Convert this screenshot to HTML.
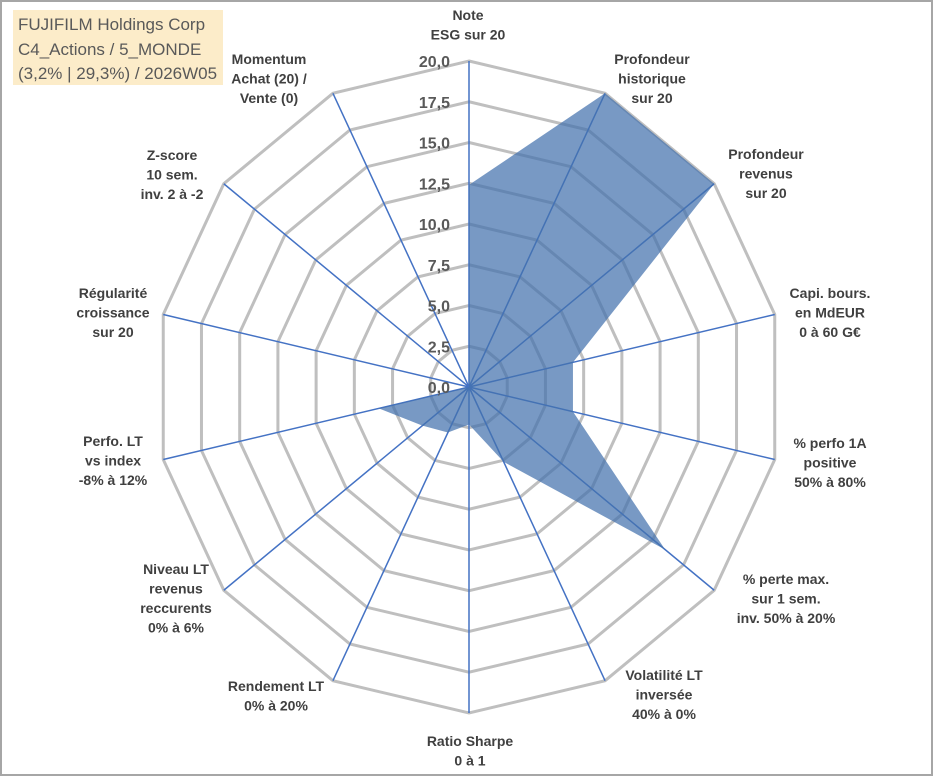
<!DOCTYPE html>
<html><head><meta charset="utf-8"><style>
body{margin:0;background:#fff;}
svg{display:block;font-family:"Liberation Sans",sans-serif;}
</style></head><body>
<svg id="c" width="933" height="776" xmlns="http://www.w3.org/2000/svg">
<rect x="1" y="1" width="931" height="774" fill="#fff" stroke="#a6a6a6" stroke-width="2"/>
<rect x="13" y="10" width="210" height="75" fill="#fcecc9"/>
<g font-size="17" fill="#595959">
<text x="18" y="30">FUJIFILM Holdings Corp</text>
<text x="18" y="55">C4_Actions / 5_MONDE</text>
<text x="18" y="79">(3,2% | 29,3%) / 2026W05</text>
</g>
<g id="grid"></g><g id="spokes"></g><g id="series"></g><g id="ticks"></g><g id="labels"></g>
</svg>
<script>
const categories=["Note|ESG sur 20","Profondeur|historique|sur 20","Profondeur|revenus|sur 20","Capi. bours.|en MdEUR|0 à 60 G€","% perfo 1A|positive|50% à 80%","% perte max.|sur 1 sem.|inv. 50% à 20%","Volatilité LT|inversée|40% à 0%","Ratio Sharpe|0 à 1","Rendement LT|0% à 20%","Niveau LT|revenus|reccurents|0% à 6%","Perfo. LT|vs index|-8% à 12%","Régularité|croissance|sur 20","Z-score|10 sem.|inv. 2 à -2","Momentum|Achat (20) /|Vente (0)"];
const values=[12.4,20,20,6.8,6.8,16,5.1,2.3,3.1,3.8,5.9,0,0,0];
const ticks=[0,2.5,5,7.5,10,12.5,15,17.5,20];
const tickLabels=["0,0","2,5","5,0","7,5","10,0","12,5","15,0","17,5","20,0"];
const labelPos=[[468,20],[652,64],[766,159],[830,298],[830,448],[786,584],[664,680],[470,746],[276,691],[176,574],[113,446],[113,298],[172,160],[269,64]];
const NS="http://www.w3.org/2000/svg";
const cx=469,cy=387,R=326,SX=0.962,MAX=20,N=categories.length;
function rs(v){return v/MAX*R;}
function pt(i,v){const a=i*2*Math.PI/N;return [cx+rs(v)*SX*Math.sin(a),cy-rs(v)*Math.cos(a)];}
function mk(t,attrs,parent){const e=document.createElementNS(NS,t);for(const k in attrs)e.setAttribute(k,attrs[k]);document.getElementById(parent).appendChild(e);return e;}
ticks.forEach((t,k)=>{if(t===0)return;
 const p=categories.map((c,i)=>pt(i,t).join(',')).join(' ');
 const e=mk('polygon',{points:p,fill:'none',stroke:'#bfbfbf','stroke-width':3},'grid');
 
 
});
const poly=mk('polygon',{points:values.map((v,i)=>pt(i,v).join(',')).join(' '),fill:'#4471ad','fill-opacity':0.72,stroke:'none'},'series');


categories.forEach((c,i)=>{const [x,y]=pt(i,MAX);
 const l=mk('line',{x1:cx,y1:cy,x2:x,y2:y,stroke:'#4472c4','stroke-width':1.5},'spokes');
 
 
 const g=mk('text',{x:labelPos[i][0],y:labelPos[i][1],'text-anchor':'middle','font-size':14,'font-weight':'bold',fill:'#404040'},'labels');
 
 
 c.split('|').forEach((s,j)=>{const ts=document.createElementNS(NS,'tspan');ts.setAttribute('x',labelPos[i][0]);ts.setAttribute('dy',j?19.5:0);ts.textContent=s;g.appendChild(ts);});
});
ticks.forEach((t,k)=>{const e=mk('text',{x:450,y:cy-rs(t)+6,'text-anchor':'end','font-size':16,'font-weight':'bold',fill:'#595959'},'ticks');
 
 
 e.textContent=tickLabels[k];});
</script>
</body></html>
